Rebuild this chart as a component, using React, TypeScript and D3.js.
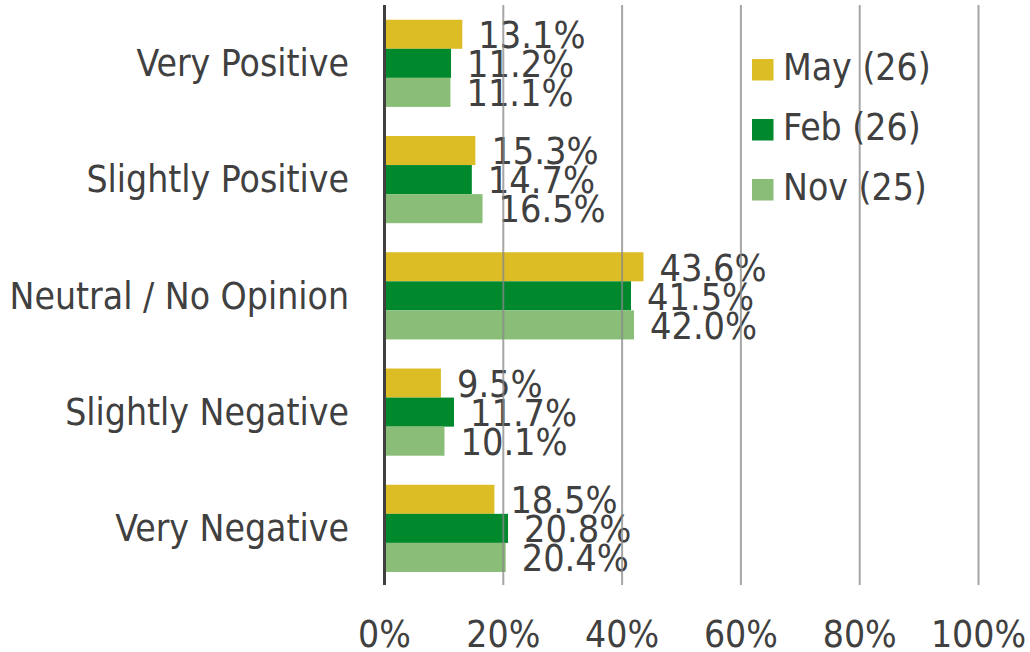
import React from "react";
import * as d3 from "d3";

const categories = [
  "Very Positive",
  "Slightly Positive",
  "Neutral / No Opinion",
  "Slightly Negative",
  "Very Negative",
];
const seriesNames = ["May (26)", "Feb (26)", "Nov (25)"];
const mayValues = [13.1, 15.3, 43.6, 9.5, 18.5];
const febValues = [11.2, 14.7, 41.5, 11.7, 20.8];
const novValues = [11.1, 16.5, 42.0, 10.1, 20.4];
const seriesColors = ["#DCBD26", "#00882D", "#8ABE78"];
const xTicks = [0, 20, 40, 60, 80, 100];

const W = 1030;
const H = 652;
const FONT = "'DejaVu Sans Condensed', 'DejaVu Sans', sans-serif";
const TEXT = "#404040";

export default function App() {
  const seriesValues = [mayValues, febValues, novValues];
  const x = d3.scaleLinear().domain([0, 100]).range([384.5, 978.5]);
  const y = d3
    .scaleBand<string>()
    .domain(categories)
    .range([5.2, 586.5])
    .paddingInner(0.25)
    .paddingOuter(0.125);
  const ys = d3
    .scaleBand<string>()
    .domain(seriesNames)
    .range([0, y.bandwidth()]);
  const fmt = (v: number) => `${v.toFixed(1)}%`;

  return (
    <svg
      width={W}
      height={H}
      style={{ position: "absolute", left: 0, top: 0, background: "#fff" }}
      fontFamily={FONT}
      fontStretch="condensed"
    >
      {/* bars */}
      {categories.map((c, ci) =>
        seriesNames.map((s, si) => (
          <rect
            key={`${c}-${s}`}
            x={x(0)}
            y={(y(c) ?? 0) + (ys(s) ?? 0)}
            width={x(seriesValues[si][ci]) - x(0)}
            height={ys.bandwidth()}
            fill={seriesColors[si]}
          />
        ))
      )}
      {/* value labels */}
      {categories.map((c, ci) =>
        seriesNames.map((s, si) => (
          <text
            key={`l-${c}-${s}`}
            x={x(seriesValues[si][ci]) + 16}
            y={(y(c) ?? 0) + (ys(s) ?? 0) + ys.bandwidth() / 2 + 13.8}
            fontSize={37.5}
            fill={TEXT}
          >
            {fmt(seriesValues[si][ci])}
          </text>
        ))
      )}
      {/* gridlines */}
      {xTicks.slice(1).map((t) => (
        <line
          key={`g-${t}`}
          x1={x(t)}
          x2={x(t)}
          y1={5}
          y2={585}
          stroke="#888"
          strokeOpacity={0.75}
          strokeWidth={2}
        />
      ))}
      {/* axis line */}
      <line x1={x(0)} x2={x(0)} y1={5} y2={585} stroke={TEXT} strokeWidth={3} />
      {/* category labels */}
      {categories.map((c) => (
        <text
          key={`c-${c}`}
          x={349}
          y={(y(c) ?? 0) + y.bandwidth() / 2 + 12.8}
          textAnchor="end"
          fontSize={37}
          fill={TEXT}
        >
          {c}
        </text>
      ))}
      {/* x tick labels */}
      {xTicks.map((t) => (
        <text
          key={`t-${t}`}
          x={x(t)}
          y={647}
          textAnchor="middle"
          fontSize={37}
          fill={TEXT}
        >
          {`${t}%`}
        </text>
      ))}
      {/* legend */}
      {seriesNames.map((s, i) => (
        <g key={`lg-${s}`} transform={`translate(752, ${59 + i * 60})`}>
          <rect x={0} y={0} width={21.5} height={21.5} fill={seriesColors[i]} />
          <text x={31} y={20.8} fontSize={37} fill={TEXT}>
            {s}
          </text>
        </g>
      ))}
    </svg>
  );
}
